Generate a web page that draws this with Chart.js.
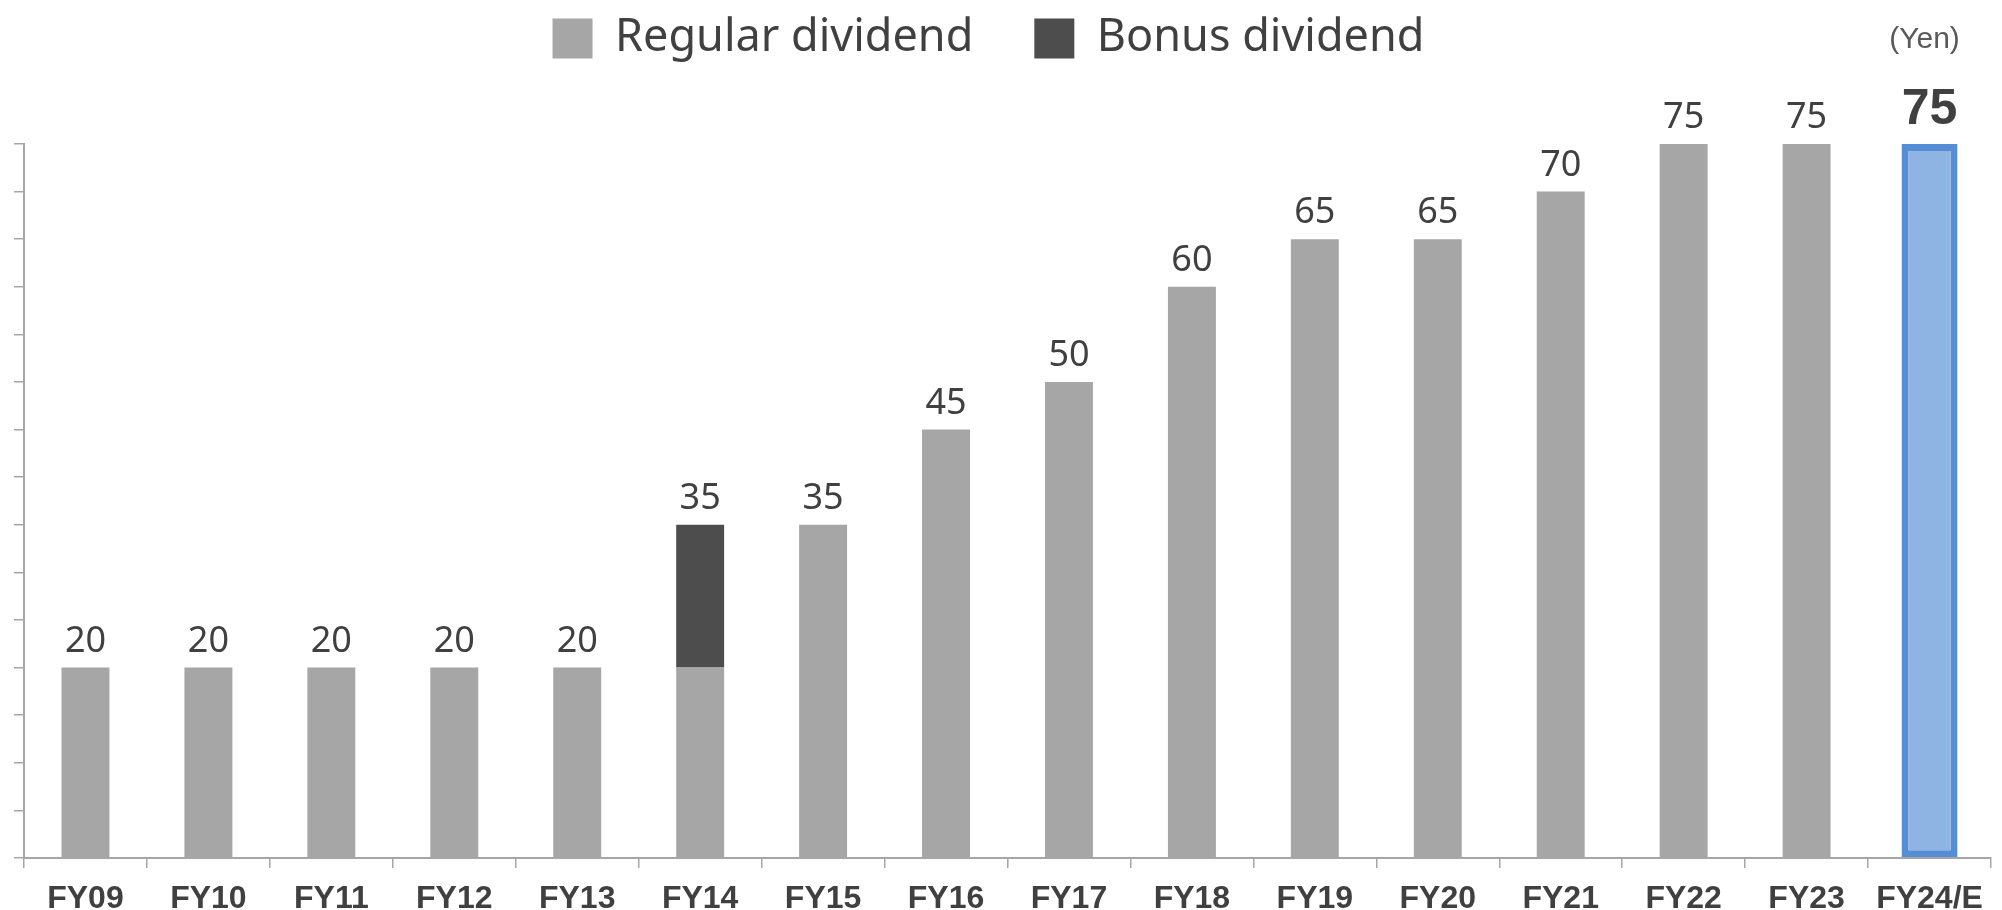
<!DOCTYPE html>
<html>
<head>
<meta charset="utf-8">
<script src="https://cdn.jsdelivr.net/npm/chart.js@4.4.1/dist/chart.umd.min.js"></script>
<style>
    html, body { margin: 0; padding: 0; background: #ffffff; }
    #wrap { width: 2002px; height: 910px; }
</style>
</head>
<body>
<div id="wrap"><canvas id="dividend-chart"></canvas></div>
<script>
// dividend per share, yen
const years = ['FY09', 'FY10', 'FY11', 'FY12', 'FY13', 'FY14', 'FY15', 'FY16',
               'FY17', 'FY18', 'FY19', 'FY20', 'FY21', 'FY22', 'FY23', 'FY24/E'];
const regular = [20, 20, 20, 20, 20, 20, 35, 45, 50, 60, 65, 65, 70, 75, 75, null];
const bonus = [0, 0, 0, 0, 0, 15, 0, 0, 0, 0, 0, 0, 0, 0, 0, null];
const forecast = [null, null, null, null, null, null, null, null, null, null, null, null, null, null, null, 75];
const yMax = 75;
const yStep = 5;
const unitLabel = '(Yen)';

const textColor = '#404040';
const axisColor = '#a6a6a6';

// legend sits a bit left of centre and higher than chart.js puts it
const legendNudge = {
    id: 'legendNudge',
    beforeInit(chart) {
        const fit = chart.legend.fit;
        chart.legend.fit = function() {
            fit.bind(chart.legend)();
            this.height = 144;
        };
    },
    afterLayout(chart) {
        chart.legend.left -= 14;
        chart.legend.right -= 14;
        chart.legend.top -= 45;
    }
};

// totals above each bar + unit text
const totalLabels = {
    id: 'totalLabels',
    afterDatasetsDraw(chart) {
        const ctx = chart.ctx;
        ctx.save();
        ctx.textAlign = 'center';
        ctx.textBaseline = 'alphabetic';
        ctx.fillStyle = textColor;
        years.forEach((y, i) => {
            let total = 0;
            let top = null;
            chart.data.datasets.forEach((ds, d) => {
                const v = ds.data[i];
                if (v) {
                    total += v;
                    const el = chart.getDatasetMeta(d).data[i];
                    if (top === null || el.y < top) top = el.y;
                }
            });
            if (top === null) return;
            const x = chart.scales.x.getPixelForValue(i);
            if (i === years.length - 1) {
                ctx.font = 'bold 50px "Liberation Sans"';
                ctx.fillText(total, x, top - 20);
            } else {
                ctx.font = '36px "Noto Sans"';
                ctx.fillText(total, x, top - 16);
            }
        });
        ctx.font = '30px "Liberation Sans"';
        ctx.fillStyle = '#595959';
        ctx.fillText(unitLabel, chart.scales.x.getPixelForValue(years.length - 1) - 5, 48);
        ctx.restore();
    }
};

let chart = document.getElementById('dividend-chart').getContext('2d');
new Chart(chart, {
    type: 'bar',
    data: {
        labels: years,
        datasets: [{
            label: 'Regular dividend',
            data: regular,
            backgroundColor: '#a6a6a6',
            barPercentage: 0.39,
            categoryPercentage: 1
        }, {
            label: 'Bonus dividend',
            data: bonus,
            backgroundColor: '#4d4d4d',
            barPercentage: 0.39,
            categoryPercentage: 1
        }, {
            label: 'Forecast',
            data: forecast,
            backgroundColor: '#8eb4e3',
            borderColor: '#558ed5',
            borderWidth: 7,
            borderSkipped: false,
            barPercentage: 0.456,
            categoryPercentage: 1
        }]
    },
    options: {
        responsive: true,
        maintainAspectRatio: false,
        animation: false,
        layout: {
            padding: { left: 14, right: 11, top: 0, bottom: 0 }
        },
        plugins: {
            legend: {
                position: 'top',
                labels: {
                    boxWidth: 40,
                    boxHeight: 40,
                    padding: 61,
                    color: textColor,
                    font: { family: '"Noto Sans"', size: 45 },
                    filter: item => item.text !== 'Forecast'
                }
            },
            tooltip: { enabled: false }
        },
        scales: {
            x: {
                stacked: true,
                afterFit(scale) {
                    scale.height = 52;
                },
                grid: {
                    drawOnChartArea: false,
                    drawTicks: true,
                    tickLength: 10,
                    color: axisColor,
                    lineWidth: 1.5
                },
                border: { color: axisColor, width: 2 },
                ticks: {
                    color: textColor,
                    padding: 14,
                    font: { family: '"Liberation Sans"', size: 32, weight: 'bold', lineHeight: 1.1 }
                }
            },
            y: {
                stacked: true,
                min: 0,
                max: yMax,
                grid: {
                    drawOnChartArea: false,
                    drawTicks: true,
                    tickLength: 10,
                    color: axisColor,
                    lineWidth: 1.5
                },
                border: { color: axisColor, width: 2 },
                ticks: {
                    stepSize: yStep,
                    display: false
                }
            }
        }
    },
    plugins: [legendNudge, totalLabels]
});
</script>
</body>
</html>
